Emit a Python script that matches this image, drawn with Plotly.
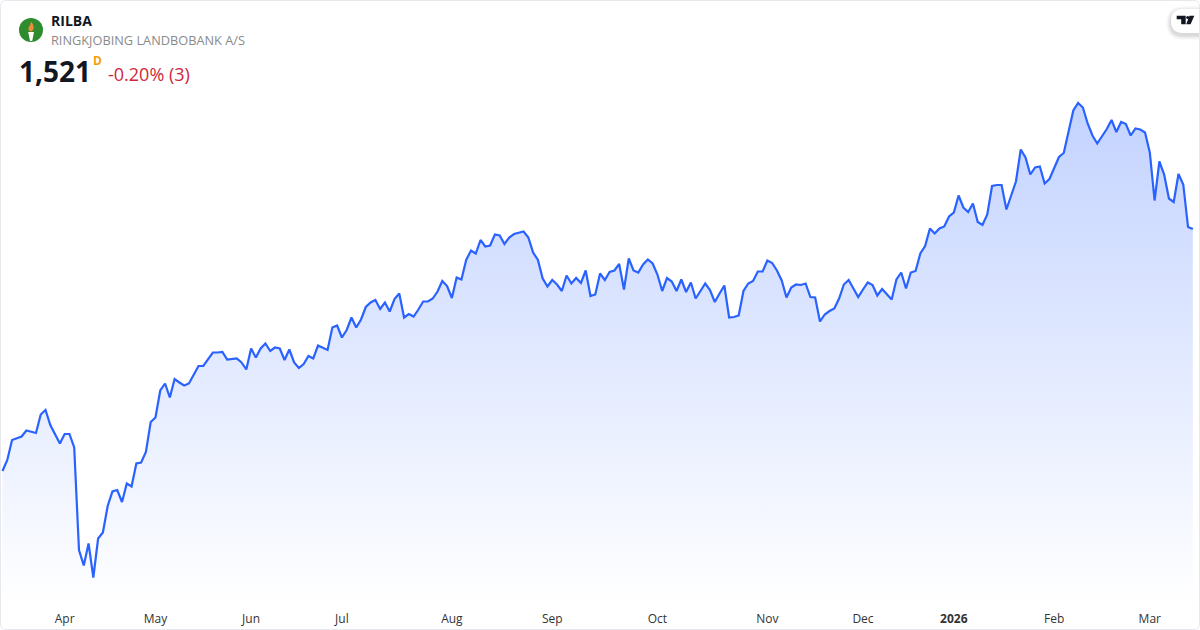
import plotly.graph_objects as go

SYMBOL = "RILBA"
COMPANY = "RINGKJOBING LANDBOBANK A/S"
LAST = "1,521"
CHANGE = "-0.20% (3)"

tick_sessions = [13, 32, 52, 71, 94, 115, 137, 160, 180, 199, 220, 240]
tick_labels = ["Apr", "May", "Jun", "Jul", "Aug", "Sep", "Oct", "Nov", "Dec", "<b>2026</b>", "Feb", "Mar"]

close = [
    1037, 1059, 1099, 1102, 1106, 1118, 1115, 1113, 1150, 1159, 1129, 1112, 1092, 1111, 1111, 1084, 879, 848, 892, 824,
    902, 914, 967, 996, 999, 975, 1012, 1006, 1052, 1054, 1075, 1135, 1144, 1198, 1212, 1184, 1221, 1214, 1208, 1212,
    1230, 1247, 1247, 1260, 1274, 1274, 1275, 1260, 1261, 1262, 1254, 1240, 1282, 1264, 1282, 1292, 1277, 1284, 1282, 1259,
    1280, 1254, 1243, 1251, 1267, 1262, 1288, 1284, 1279, 1324, 1328, 1304, 1319, 1344, 1324, 1340, 1365, 1374, 1379, 1361,
    1374, 1356, 1381, 1392, 1344, 1351, 1346, 1360, 1376, 1376, 1382, 1396, 1417, 1407, 1383, 1424, 1420, 1459, 1478, 1472,
    1499, 1486, 1488, 1510, 1508, 1491, 1504, 1511, 1514, 1516, 1504, 1474, 1459, 1422, 1406, 1419, 1410, 1397, 1428, 1412,
    1423, 1413, 1438, 1387, 1390, 1432, 1419, 1435, 1438, 1451, 1400, 1462, 1438, 1434, 1450, 1460, 1452, 1430, 1397, 1423,
    1416, 1397, 1420, 1395, 1414, 1382, 1397, 1412, 1399, 1375, 1392, 1408, 1344, 1345, 1348, 1397, 1412, 1417, 1436, 1436,
    1458, 1453, 1438, 1418, 1384, 1404, 1410, 1409, 1412, 1385, 1384, 1336, 1350, 1357, 1362, 1382, 1410, 1419, 1402, 1385,
    1400, 1414, 1409, 1388, 1401, 1390, 1380, 1420, 1434, 1402, 1434, 1437, 1472, 1487, 1522, 1512, 1522, 1526, 1546, 1554,
    1588, 1564, 1555, 1572, 1535, 1529, 1550, 1607, 1609, 1609, 1560, 1588, 1616, 1680, 1664, 1630, 1644, 1646, 1612, 1621,
    1642, 1665, 1673, 1716, 1758, 1773, 1764, 1732, 1708, 1692, 1707, 1721, 1739, 1715, 1735, 1731, 1708, 1722, 1720, 1714,
    1674, 1578, 1656, 1630, 1582, 1575, 1631, 1610, 1525, 1521,
]
sessions = list(range(len(close)))

W, H = 1200, 630
BOTTOM = 25
PLOT_H = H - BOTTOM


def px(x):
    return x / W


def py(y):
    return 1 - y / PLOT_H


def path(points):
    """Turn pixel-space commands into an SVG path in paper coordinates."""
    out = []
    for cmd, *coords in points:
        vals = []
        for i in range(0, len(coords), 2):
            vals.append(f"{px(coords[i]):.5f},{py(coords[i + 1]):.5f}")
        out.append(cmd + " ".join(vals))
    return " ".join(out) + " Z"


fig = go.Figure()
fig.add_trace(go.Scatter(
    x=sessions, y=close, mode="lines",
    line=dict(color="#2962FF", width=2.2),
    fill="tozeroy",
    fillgradient=dict(
        type="vertical",
        colorscale=[[0, "rgba(41,98,255,0)"], [1, "rgba(41,98,255,0.28)"]],
        start=769, stop=1773,
    ),
    hoverinfo="skip", showlegend=False,
))

shapes = []
# card frame
r = 6
shapes.append(dict(
    type="path", xref="paper", yref="paper", layer="above",
    line=dict(color="#E6E8EE", width=1), fillcolor="rgba(0,0,0,0)",
    path=path([("M", 0.5 + r, 0.5), ("L", 1199.5 - r, 0.5), ("Q", 1199.5, 0.5, 1199.5, 0.5 + r),
               ("L", 1199.5, 629.5 - r), ("Q", 1199.5, 629.5, 1199.5 - r, 629.5),
               ("L", 0.5 + r, 629.5), ("Q", 0.5, 629.5, 0.5, 629.5 - r),
               ("L", 0.5, 0.5 + r), ("Q", 0.5, 0.5, 0.5 + r, 0.5)]),
))
# logo
shapes.append(dict(type="circle", xref="paper", yref="paper", layer="above",
                   x0=px(19), x1=px(43), y0=py(42), y1=py(18),
                   fillcolor="#2E8B2E", line=dict(width=0)))
shapes.append(dict(type="path", xref="paper", yref="paper", layer="above",
                   fillcolor="#F08A3C", line=dict(width=0),
                   path=path([("M", 31, 21.5), ("Q", 34.5, 26, 33.5, 29), ("Q", 32.5, 31.5, 30.5, 31.5),
                              ("Q", 28, 30.5, 28.5, 27.5), ("Q", 30.5, 25.5, 31, 21.5)])))
shapes.append(dict(type="path", xref="paper", yref="paper", layer="above",
                   fillcolor="#FFFFFF", line=dict(width=0),
                   path=path([("M", 28.2, 32), ("L", 34, 32), ("L", 32.2, 41), ("L", 30, 41)])))
# TradingView pill with a soft shadow
for grow, alpha in [(5, 0.02), (4, 0.025), (3, 0.03), (2, 0.035), (1, 0.04)]:
    x0, y0, y1 = 1171 - grow, 9 - grow + 2, 33 + grow + 2
    rad = (y1 - y0) / 2
    shapes.append(dict(type="path", xref="paper", yref="paper", layer="above",
                       fillcolor=f"rgba(0,0,0,{alpha})", line=dict(width=0),
                       path=path([("M", 1199, y0), ("L", x0 + rad, y0), ("Q", x0, y0, x0, y0 + rad),
                                  ("Q", x0, y1, x0 + rad, y1), ("L", 1199, y1)])))
shapes.append(dict(type="path", xref="paper", yref="paper", layer="above",
                   fillcolor="#FFFFFF", line=dict(width=0),
                   path=path([("M", 1199, 9), ("L", 1183, 9), ("Q", 1171, 9, 1171, 21),
                              ("Q", 1171, 33, 1183, 33), ("L", 1199, 33)])))
shapes.append(dict(type="path", xref="paper", yref="paper", layer="above",
                   fillcolor="#131722", line=dict(width=0),
                   path=path([("M", 1176.7, 15.7), ("L", 1185.7, 15.7), ("L", 1185.7, 24.3), ("L", 1181.2, 24.3),
                              ("L", 1181.2, 19.2), ("L", 1176.7, 19.2)])))
shapes.append(dict(type="circle", xref="paper", yref="paper", layer="above",
                   x0=px(1186.2), x1=px(1189.2), y0=py(19), y1=py(16),
                   fillcolor="#131722", line=dict(width=0)))
shapes.append(dict(type="path", xref="paper", yref="paper", layer="above",
                   fillcolor="#131722", line=dict(width=0),
                   path=path([("M", 1189.5, 15.7), ("L", 1194.3, 15.7), ("L", 1190.6, 24.3), ("L", 1186.2, 24.3)])))

FONT = "Open Sans"


def label(text, x, y, size, color, anchor="left", bold=False):
    return dict(text=f"<b>{text}</b>" if bold else text, xref="paper", yref="paper",
                x=px(x - 2), y=py(y), xanchor=anchor, yanchor="middle", showarrow=False,
                font=dict(family=FONT, size=size, color=color))


annotations = [
    label(SYMBOL, 51, 21, 14, "#131722", bold=True),
    label(COMPANY, 51, 40.5, 12.75, "#8A8A8A"),
    label(LAST, 19, 71, 28, "#131722", bold=True),
    label("D", 93, 61, 12, "#F59E0B", bold=True),
    label(CHANGE, 108, 74, 18, "#D0263C"),
]

fig.update_layout(
    width=W, height=H,
    margin=dict(l=0, r=0, t=0, b=BOTTOM, pad=0),
    paper_bgcolor="#FFFFFF", plot_bgcolor="#FFFFFF",
    shapes=shapes, annotations=annotations,
    font=dict(family=FONT, size=12, color="#333333"),
    xaxis=dict(
        range=[-0.523, 250.5], showgrid=False, zeroline=False, showline=False,
        tickmode="array", tickvals=tick_sessions, ticktext=tick_labels,
        ticks="", ticklen=0, ticklabelstandoff=5,
        tickfont=dict(family=FONT, size=12, color="#333333"),
        fixedrange=True,
    ),
    yaxis=dict(range=[769, 1979], visible=False, fixedrange=True),
)

fig.write_html("out.html", config=dict(displayModeBar=False, responsive=False),
               post_script="document.body.style.margin='0';document.body.style.overflow='hidden';")
